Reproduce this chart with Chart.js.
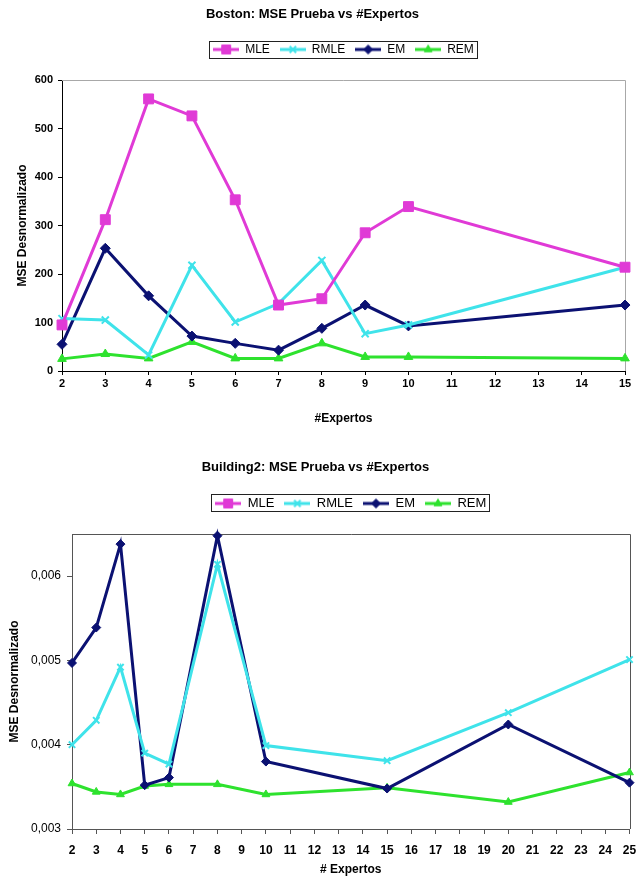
<!DOCTYPE html>
<html>
<head>
<meta charset="utf-8">
<script src="https://cdn.jsdelivr.net/npm/chart.js@4.4.1/dist/chart.umd.min.js"></script>
<style>
    html, body { margin: 0; padding: 0; background: #fff; }
    .wrap { position: absolute; left: 0; width: 636px; }
    #wrap1 { top: 0; height: 440px; }
    #wrap2 { top: 440px; height: 439px; }
</style>
</head>
<body>
<div class="wrap" id="wrap1"><canvas id="boston"></canvas></div>
<div class="wrap" id="wrap2"><canvas id="building"></canvas></div>
<script>
// Boston data
const bostonExpertos = [2, 3, 4, 5, 6, 7, 8, 9, 10, 15];
const bostonMLE  = [95, 312, 561, 526, 353, 136, 149, 285, 339, 214];
const bostonRMLE = [108, 105, 33, 218, 101, 139, 228, 77, 95, 214];
const bostonEM   = [55, 253, 155, 72, 57, 43, 88, 136, 93, 136];
const bostonREM  = [25, 35, 26, 60, 26, 26, 57, 29, 29, 26];

// Building2 data (MLE has no visible points)
const buildingExpertos = [2, 3, 4, 5, 6, 8, 10, 15, 20, 25];
const buildingMLE  = [];
const buildingRMLE = [0.0040, 0.00429, 0.00492, 0.0039, 0.00377, 0.00614, 0.00399, 0.00381, 0.00438, 0.00501];
const buildingEM   = [0.00497, 0.00539, 0.00638, 0.00352, 0.00361, 0.00648, 0.0038, 0.00348, 0.00424, 0.00355];
const buildingREM  = [0.00354, 0.00344, 0.00341, 0.00351, 0.00353, 0.00353, 0.00341, 0.00349, 0.00332, 0.00367];

const seriesNames = ['MLE', 'RMLE', 'EM', 'REM'];

const SANS = "'Liberation Sans', Arial, sans-serif";
const NARROW = "'Liberation Sans Narrow', 'Liberation Sans', Arial, sans-serif";

const styles = {
    MLE:  { color: '#e03ad6', point: 'rect', scale: 1.4 },
    RMLE: { color: '#3fe3ea', point: 'crossRot', scale: 1 },
    EM:   { color: '#0b1172', point: 'rectRot', scale: 1 },
    REM:  { color: '#2ee22e', point: 'triangle', scale: 1 }
};

// line + marker picture for the legend
function legendImage(name) {
    const s = styles[name];
    const c = document.createElement('canvas');
    c.width = 26; c.height = 12;
    const g = c.getContext('2d');
    g.strokeStyle = s.color;
    g.lineWidth = 3;
    g.beginPath(); g.moveTo(0, 6); g.lineTo(26, 6); g.stroke();
    g.fillStyle = s.color;
    g.lineWidth = name === 'RMLE' ? 2 : 1;
    Chart.helpers.drawPoint(g, { pointStyle: s.point, radius: 4.5 * s.scale, borderWidth: g.lineWidth }, 13, 6);
    return c;
}

function makeDatasets(xs, lists, radius) {
    return seriesNames.map((name, k) => {
        const s = styles[name];
        return {
            label: name,
            data: lists[k].map((v, i) => ({ x: xs[i], y: v })),
            borderColor: s.color,
            backgroundColor: s.color,
            borderWidth: 3,
            pointStyle: s.point,
            pointRadius: radius * s.scale,
            pointBorderWidth: name === 'RMLE' ? 2 : 1,
            pointBackgroundColor: s.color,
            pointBorderColor: s.color,
            tension: 0,
            clip: false
        };
    });
}

// legend centred over plot area, moved to a fixed height, boxed in
const legendFrame = {
    id: 'legendFrame',
    afterLayout(chart) {
        const lg = chart.legend;
        const o = chart.options.plugins.legendFrame;
        lg.left = chart.chartArea.left;
        lg.right = chart.chartArea.right;
        const pad = chart.options.plugins.legend.labels.padding;
        lg.top = o.centerY - pad - 6;
        lg.bottom = lg.top + lg.height;
    },
    afterDraw(chart) {
        const boxes = chart.legend.legendHitBoxes;
        if (!boxes || !boxes.length) return;
        let l = Infinity, r = -Infinity;
        boxes.forEach(b => { l = Math.min(l, b.left); r = Math.max(r, b.left + b.width); });
        const t = boxes[0].top;
        const ctx = chart.ctx;
        ctx.save();
        ctx.strokeStyle = '#222';
        ctx.lineWidth = 1;
        ctx.strokeRect(Math.round(l - 4) + 0.5, Math.round(t - 3) + 0.5, Math.round(r - l + 7), 17);
        ctx.restore();
    }
};

// outline of plot area (sides not drawn by axes)
const plotFrame = {
    id: 'plotFrame',
    beforeDatasetsDraw(chart) {
        const o = chart.options.plugins.plotFrame;
        const a = chart.chartArea;
        const ctx = chart.ctx;
        ctx.save();
        ctx.strokeStyle = o.color;
        ctx.lineWidth = 1;
        ctx.beginPath();
        ctx.moveTo(Math.round(a.left), Math.round(a.top) + 0.5);
        ctx.lineTo(Math.round(a.right) + 0.5, Math.round(a.top) + 0.5);
        ctx.lineTo(Math.round(a.right) + 0.5, Math.round(a.bottom));
        ctx.stroke();
        ctx.restore();
    }
};

function legendLabels(chart) {
    return Chart.defaults.plugins.legend.labels.generateLabels(chart).map(l => ({
        ...l, pointStyle: legendImage(l.text), lineWidth: 0
    }));
}

// Boston chart
new Chart(document.getElementById('boston'), {
    type: 'line',
    data: { datasets: makeDatasets(bostonExpertos, [bostonMLE, bostonRMLE, bostonEM, bostonREM], 5) },
    plugins: [legendFrame, plotFrame],
    options: {
        responsive: true,
        maintainAspectRatio: false,
        animation: false,
        layout: { padding: { left: 0, right: 11, top: 0, bottom: 0 } },
        plugins: {
            title: {
                display: true,
                text: 'Boston: MSE Prueba vs #Expertos',
                color: '#000',
                font: { family: SANS, size: 13, weight: 'bold' },
                padding: { top: 7, bottom: 25.4 }
            },
            legend: {
                labels: {
                    usePointStyle: true,
                    pointStyleWidth: 26,
                    padding: 10,
                    color: '#000',
                    font: { family: SANS, size: 12 },
                    generateLabels: legendLabels
                }
            },
            legendFrame: { centerY: 49.5 },
            plotFrame: { color: '#a8a8a8' },
            tooltip: { enabled: false }
        },
        scales: {
            x: {
                type: 'linear',
                min: 2, max: 15,
                afterFit: s => { s.height = 69; s.paddingLeft = 0; s.paddingRight = 0; },
                ticks: { stepSize: 1, padding: 2, color: '#000', font: { family: NARROW, size: 11, weight: 'bold' } },
                grid: { drawOnChartArea: false, tickLength: 4, color: '#000' },
                border: { color: '#000' },
                title: {
                    display: true, text: '#Expertos', color: '#000',
                    font: { family: SANS, size: 12, weight: 'bold' },
                    padding: { top: 0, bottom: 14 }
                }
            },
            y: {
                min: 0, max: 600,
                afterFit: s => { s.width = 62; },
                ticks: { stepSize: 100, padding: 5, color: '#000', font: { family: NARROW, size: 11, weight: 'bold' } },
                grid: { drawOnChartArea: false, tickLength: 4, color: '#000' },
                border: { color: '#000' },
                title: {
                    display: true, text: 'MSE Desnormalizado', color: '#000',
                    font: { family: SANS, size: 12, weight: 'bold' },
                    padding: { top: 15, bottom: 0 }
                }
            }
        }
    }
});

// Building2 chart
new Chart(document.getElementById('building'), {
    type: 'line',
    data: { datasets: makeDatasets(buildingExpertos, [buildingMLE, buildingRMLE, buildingEM, buildingREM], 4.5) },
    plugins: [legendFrame, plotFrame],
    options: {
        responsive: true,
        maintainAspectRatio: false,
        animation: false,
        layout: { padding: { left: 0, right: 5, top: 0, bottom: 0 } },
        plugins: {
            title: {
                display: true,
                text: 'Building2: MSE Prueba vs #Expertos',
                color: '#000',
                font: { family: SANS, size: 13 },
                padding: { top: 20, bottom: 25.4 }
            },
            legend: {
                labels: {
                    usePointStyle: true,
                    pointStyleWidth: 26,
                    padding: 10,
                    color: '#000',
                    font: { family: SANS, size: 13 },
                    generateLabels: legendLabels
                }
            },
            legendFrame: { centerY: 63 },
            plotFrame: { color: '#555' },
            tooltip: { enabled: false }
        },
        scales: {
            x: {
                type: 'linear',
                min: 2, max: 25,
                afterFit: s => { s.height = 50; s.paddingLeft = 0; s.paddingRight = 0; },
                ticks: { stepSize: 1, padding: 9, color: '#000', font: { family: NARROW, size: 12, weight: 'bold' } },
                grid: { drawOnChartArea: false, tickLength: 5, color: '#555' },
                border: { color: '#555' },
                title: {
                    display: true, text: '# Expertos', color: '#000',
                    font: { family: SANS, size: 12, weight: 'bold' },
                    padding: { top: 0, bottom: 2 }
                }
            },
            y: {
                min: 0.003, max: 0.0065,
                afterFit: s => { s.width = 72; },
                afterBuildTicks: s => {
                    s.ticks = s.ticks.filter(t => Math.abs(t.value * 1000 - Math.round(t.value * 1000)) < 1e-6);
                },
                ticks: {
                    stepSize: 0.001, padding: 6, color: '#000',
                    font: { family: SANS, size: 12 },
                    callback: v => v.toFixed(3).replace('.', ',')
                },
                grid: { drawOnChartArea: false, tickLength: 5, color: '#555' },
                border: { color: '#555' },
                title: {
                    display: true, text: 'MSE Desnormalizado', color: '#000',
                    font: { family: SANS, size: 12, weight: 'bold' },
                    padding: { top: 7, bottom: 0 }
                }
            }
        }
    }
});
</script>
</body>
</html>
